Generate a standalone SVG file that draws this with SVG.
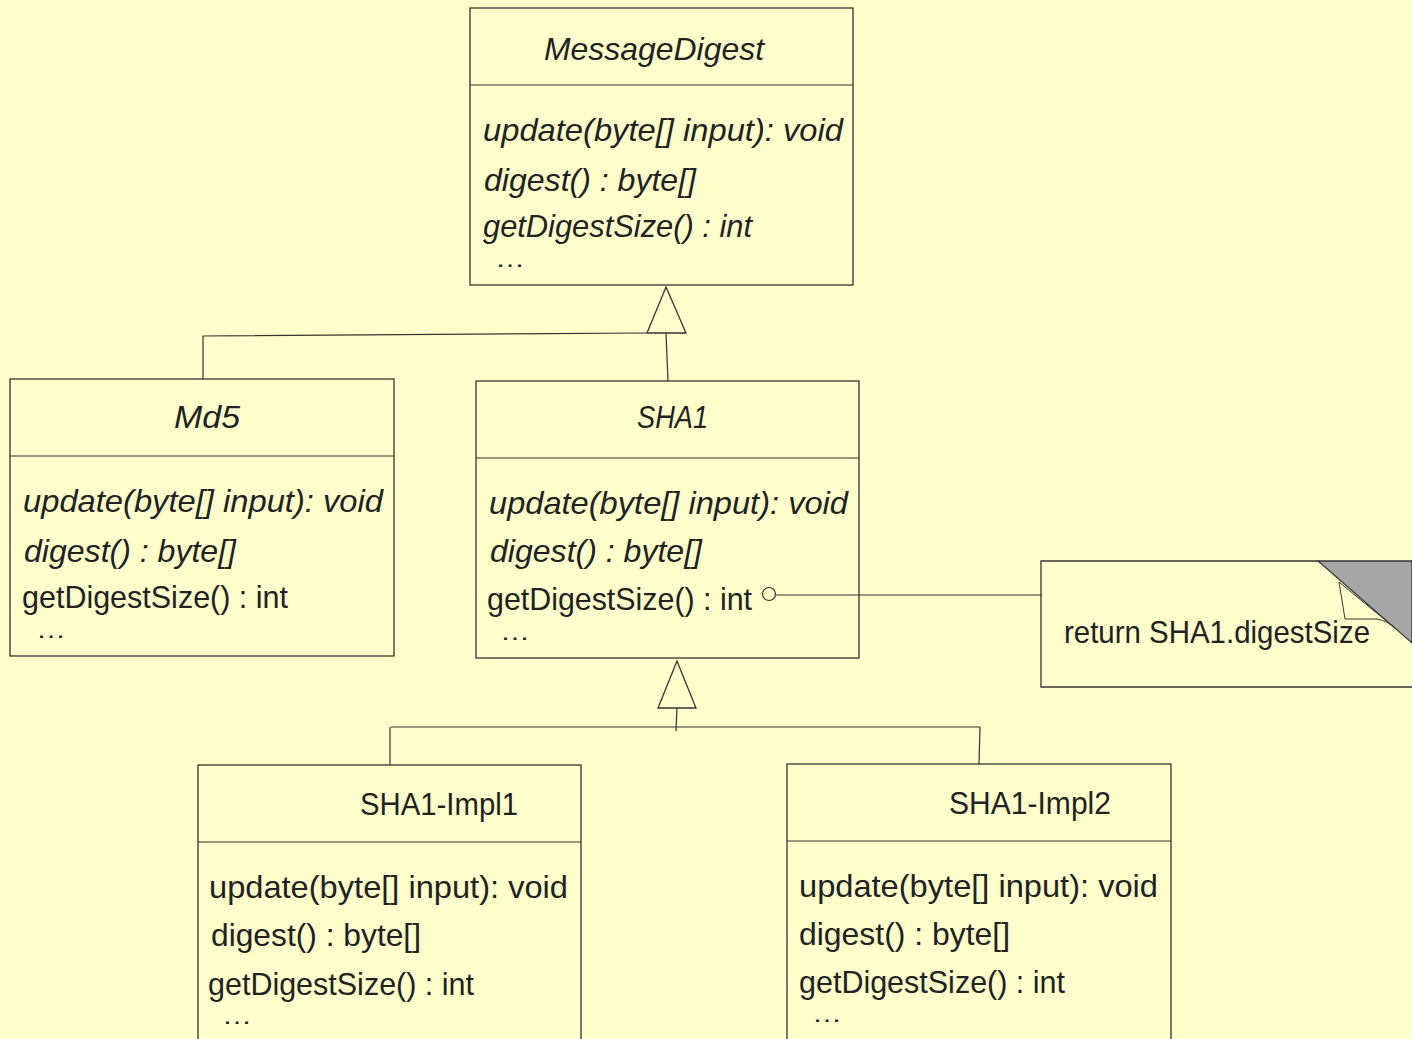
<svg xmlns="http://www.w3.org/2000/svg" width="1412" height="1039" viewBox="0 0 1412 1039">
<style>
.bg{fill:#ffffcc}
.box{fill:#ffffcc;stroke:#333;stroke-width:1.3}
.ln{fill:none;stroke:#333;stroke-width:1.2}
.tri{fill:#ffffcc;stroke:#333;stroke-width:1.3}
text{font-family:"Liberation Sans",Arial,sans-serif;font-size:32px;fill:#222}
.it{font-style:italic}
.el{font-size:24px}
</style>
<rect class="bg" x="0" y="0" width="1412" height="1039"/>
<g id="MessageDigest">
<rect class="box" x="470" y="8" width="383" height="277"/>
<line class="ln" x1="470" y1="85" x2="853" y2="85"/>
<text class="it" x="544" y="60" textLength="220" lengthAdjust="spacingAndGlyphs">MessageDigest</text>
<text class="it" x="483" y="141" textLength="360" lengthAdjust="spacingAndGlyphs">update(byte[] input): void</text>
<text class="it" x="484" y="191" textLength="212" lengthAdjust="spacingAndGlyphs">digest() : byte[]</text>
<text class="it" x="483" y="237" textLength="269" lengthAdjust="spacingAndGlyphs">getDigestSize() : int</text>
<text class="el" x="495" y="267" textLength="30" lengthAdjust="spacingAndGlyphs">…</text>
</g>
<g id="Md5">
<rect class="box" x="10" y="379" width="384" height="277"/>
<line class="ln" x1="10" y1="456" x2="394" y2="456"/>
<text class="it" x="174" y="428" textLength="66" lengthAdjust="spacingAndGlyphs">Md5</text>
<text class="it" x="23" y="512" textLength="360" lengthAdjust="spacingAndGlyphs">update(byte[] input): void</text>
<text class="it" x="24" y="562" textLength="212" lengthAdjust="spacingAndGlyphs">digest() : byte[]</text>
<text x="22" y="608" textLength="266" lengthAdjust="spacingAndGlyphs">getDigestSize() : int</text>
<text class="el" x="36" y="638" textLength="30" lengthAdjust="spacingAndGlyphs">…</text>
</g>
<g id="SHA1">
<rect class="box" x="476" y="381" width="383" height="277"/>
<line class="ln" x1="476" y1="458" x2="859" y2="458"/>
<text class="it" x="637" y="428" textLength="71" lengthAdjust="spacingAndGlyphs">SHA1</text>
<text class="it" x="489" y="514" textLength="359" lengthAdjust="spacingAndGlyphs">update(byte[] input): void</text>
<text class="it" x="490" y="562" textLength="212" lengthAdjust="spacingAndGlyphs">digest() : byte[]</text>
<text x="487" y="610" textLength="265" lengthAdjust="spacingAndGlyphs">getDigestSize() : int</text>
<text class="el" x="500" y="640" textLength="30" lengthAdjust="spacingAndGlyphs">…</text>
</g>
<g id="SHA1-Impl1">
<rect class="box" x="198" y="765" width="383" height="290"/>
<line class="ln" x1="198" y1="842" x2="581" y2="842"/>
<text x="360" y="815" textLength="158" lengthAdjust="spacingAndGlyphs">SHA1-Impl1</text>
<text x="209" y="898" textLength="359" lengthAdjust="spacingAndGlyphs">update(byte[] input): void</text>
<text x="211" y="946" textLength="210" lengthAdjust="spacingAndGlyphs">digest() : byte[]</text>
<text x="208" y="995" textLength="266" lengthAdjust="spacingAndGlyphs">getDigestSize() : int</text>
<text class="el" x="222" y="1024" textLength="30" lengthAdjust="spacingAndGlyphs">…</text>
</g>
<g id="SHA1-Impl2">
<rect class="box" x="787" y="764" width="384" height="290"/>
<line class="ln" x1="787" y1="841" x2="1171" y2="841"/>
<text x="949" y="814" textLength="162" lengthAdjust="spacingAndGlyphs">SHA1-Impl2</text>
<text x="799" y="897" textLength="359" lengthAdjust="spacingAndGlyphs">update(byte[] input): void</text>
<text x="799" y="945" textLength="211" lengthAdjust="spacingAndGlyphs">digest() : byte[]</text>
<text x="799" y="993" textLength="266" lengthAdjust="spacingAndGlyphs">getDigestSize() : int</text>
<text class="el" x="812" y="1022" textLength="30" lengthAdjust="spacingAndGlyphs">…</text>
</g>
<g id="note">
<polyline class="box" points="1318,561 1041,561 1041,687 1420,687"/>
<polygon points="1318,561 1412,561 1412,643" fill="#a6a6a6" stroke="#333" stroke-width="1.3"/>
<path d="M1339,582 L1345,619 L1377,619 Q1388,621 1396,629 L1339,582 Z" fill="#ffffcc" stroke="#333" stroke-width="1"/>
<text x="1064" y="643" textLength="306" lengthAdjust="spacingAndGlyphs">return SHA1.digestSize</text>
</g>
<g id="connectors">
<polyline class="ln" points="203,379 203,336 647,333"/>
<line class="ln" x1="666" y1="333" x2="668" y2="381"/>
<polygon class="tri" points="666,287 647,333 686,333"/>
<line class="ln" x1="391" y1="727" x2="980" y2="727"/>
<line class="ln" x1="390" y1="727" x2="390" y2="765"/>
<line class="ln" x1="980" y1="727" x2="979" y2="764"/>
<line class="ln" x1="677" y1="708" x2="676" y2="731"/>
<polygon class="tri" points="677,661 658,708 696,708"/>
<circle class="ln" cx="769" cy="594" r="6.5"/>
<line class="ln" x1="775.5" y1="595" x2="1042" y2="595"/>
</g>
</svg>
